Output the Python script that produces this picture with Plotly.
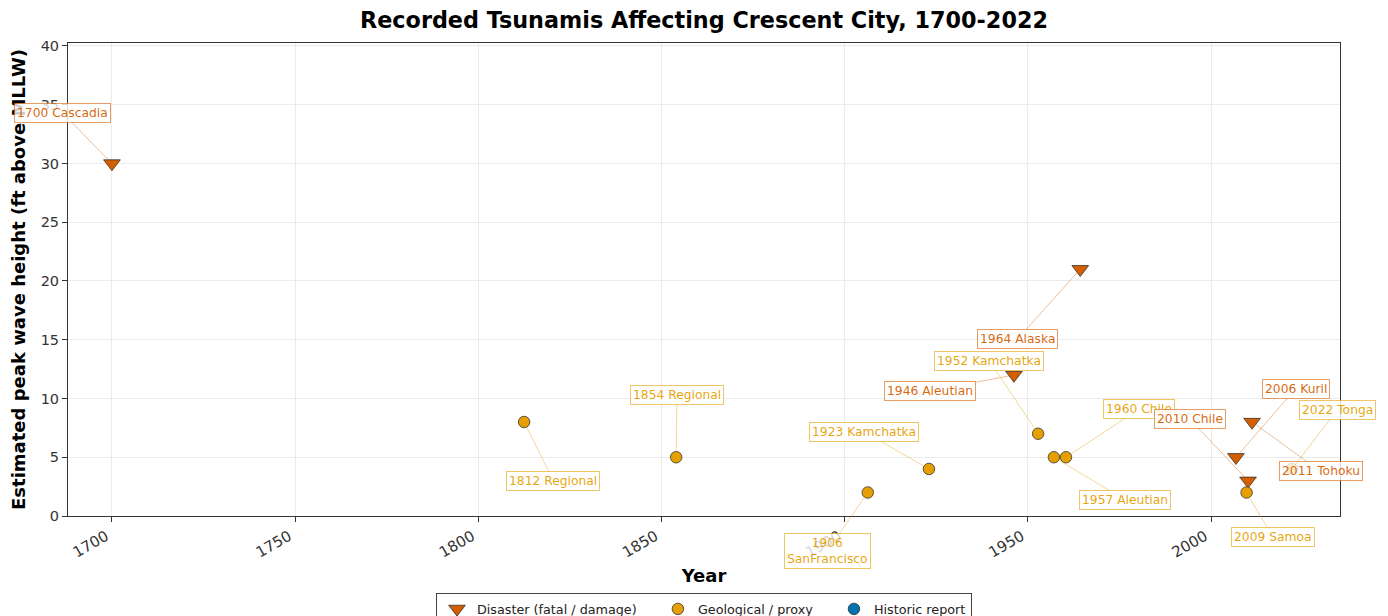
import plotly.graph_objects as go

# ---- data ----
event_labels = ["1700 Cascadia", "1812 Regional", "1854 Regional", "1906<br>SanFrancisco",
                "1923 Kamchatka", "1946 Aleutian", "1952 Kamchatka", "1957 Aleutian",
                "1960 Chile", "1964 Alaska", "2006 Kuril", "2009 Samoa", "2010 Chile",
                "2011 Tohoku", "2022 Tonga"]
event_years = [1700.0, 1812.5, 1854.0, 1906.3, 1923.0, 1946.2, 1952.8, 1957.1,
               1960.4, 1964.3, 2006.8, 2009.7, 2010.1, 2011.2, 2022.1]
event_heights = [30, 8, 5, 2, 4, 12, 7, 5, 5, 21, 5, 2, 3, 8, 4]
event_types = ["Disaster", "Geological", "Geological", "Geological", "Geological",
               "Disaster", "Geological", "Geological", "Geological", "Disaster",
               "Disaster", "Geological", "Disaster", "Disaster", "Geological"]
# label placement (data coords)
label_x = [1686.5, 1820.5, 1854.2, 1895.3, 1905.4, 1923.2, 1939.5, 1976.6,
           1980.4, 1947.2, 2023.1, 2016.9, 1994.2, 2029.9, 2034.5]
label_y = [34.3, 2.98, 10.3, -2.98, 7.15, 10.64, 13.2, 1.36,
           9.1, 15.06, 10.83, -1.8, 8.26, 3.8, 9.06]
x_ticks = [1700, 1750, 1800, 1850, 1900, 1950, 2000]
y_ticks = [0, 5, 10, 15, 20, 25, 30, 35, 40]

type_names = {"Disaster": "Disaster (fatal / damage)",
              "Geological": "Geological / proxy",
              "Historic": "Historic report"}
type_colors = {"Disaster": "#D55E00", "Geological": "#E69F00", "Historic": "#0072B2"}
type_rgb = {"Disaster": (213, 94, 0), "Geological": (230, 159, 0), "Historic": (0, 114, 178)}
type_symbols = {"Disaster": "triangle-down", "Geological": "circle", "Historic": "circle"}
type_sizes = {"Disaster": 14.5, "Geological": 11.5, "Historic": 11.5}

pad = "\u00a0\u00a0\u00a0\u00a0"
fig = go.Figure()
for t in ["Disaster", "Geological", "Historic"]:
    xs = [x for x, tt in zip(event_years, event_types) if tt == t]
    ys = [y for y, tt in zip(event_heights, event_types) if tt == t]
    if not xs:
        xs, ys = [None], [None]
    fig.add_trace(go.Scatter(
        x=xs, y=ys, mode="markers",
        name=type_names[t] + (pad if t != "Historic" else ""),
        marker=dict(symbol=type_symbols[t], size=type_sizes[t], color=type_colors[t],
                    line=dict(color="#333333", width=0.8)),
        cliponaxis=False,
    ))

for lab, x, y, t, lx, ly in zip(event_labels, event_years, event_heights, event_types, label_x, label_y):
    r, g, b = type_rgb[t]
    fig.add_annotation(
        x=x, y=y, xref="x", yref="y", ax=lx, ay=ly, axref="x", ayref="y",
        text=lab, showarrow=True, arrowhead=0, arrowwidth=0.8,
        arrowcolor=f"rgba({r},{g},{b},0.5)", standoff=5,
        font=dict(family="DejaVu Sans", size=12.3, color=f"rgba({r},{g},{b},0.95)"),
        bgcolor="rgba(255,255,255,0.8)", bordercolor=f"rgba({r},{g},{b},0.6)",
        borderwidth=1, borderpad=2,
    )

# page body adds an 8px offset; margins compensate so the plot area lands where the reference has it
fig.update_layout(
    width=1388, height=616,
    margin=dict(l=60, r=56, t=35, b=108, autoexpand=False),
    paper_bgcolor="white", plot_bgcolor="white",
    font=dict(family="DejaVu Sans", color="#222222"),
    title=dict(text="<b>Recorded Tsunamis Affecting Crescent City, 1700-2022</b>",
               x=0.5, xref="paper", y=0.98, yanchor="middle",
               font=dict(size=22.3, color="black")),
    showlegend=True,
    legend=dict(orientation="h", x=0.5, xanchor="center", y=-0.163, yanchor="top",
                bordercolor="#444444", borderwidth=1, font=dict(size=12.75, color="#222222"),
                itemwidth=30, traceorder="normal"),
)
fig.update_xaxes(
    range=[1688, 2035.2], tickvals=x_ticks,
    tickangle=-30, ticks="outside", ticklen=5, tickcolor="#333333",
    ticklabelshift=-6,
    tickfont=dict(size=15, color="#333333"), automargin=False,
    showgrid=True, gridcolor="#ebebeb", gridwidth=0.8, zeroline=False,
    showline=True, linecolor="#333333", linewidth=1, mirror=True,
    title=dict(text="<b>Year</b>", font=dict(size=18, color="black"), standoff=8),
)
fig.update_yaxes(
    range=[0, 40.25], tickvals=y_ticks,
    ticks="outside", ticklen=5, tickcolor="#333333",
    tickfont=dict(size=14.5, color="#333333"), automargin=False,
    showgrid=True, gridcolor="#ebebeb", gridwidth=0.8, zeroline=False,
    showline=True, linecolor="#333333", linewidth=1, mirror=True,
    title=dict(text="<b>Estimated peak wave height (ft above MLLW)</b>",
               font=dict(size=18, color="black"), standoff=10),
)

fig.write_html("out.html")
